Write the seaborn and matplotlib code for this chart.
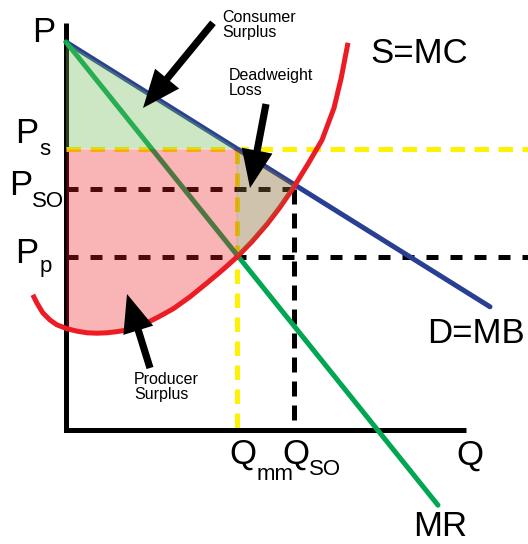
import numpy as np
import pandas as pd
import matplotlib
matplotlib.use("Agg")
import matplotlib.pyplot as plt
import seaborn as sns

# Demand (marginal benefit) and marginal revenue: straight lines
demand_q = [0.0, 10.6]
demand_p = [9.70, 3.08]
mr_q = [0.0, 9.3]
mr_p = [9.70, -1.88]

# Supply (marginal cost) curve, U-shaped
mc_q = [-0.83, -0.73, -0.58, -0.40, -0.23, 0.03, 0.28, 0.53, 0.78, 1.03,
        1.28, 1.53, 1.78, 1.98, 2.30, 2.68, 3.10, 3.53, 3.90, 4.28, 4.65,
        5.03, 5.35, 5.68, 6.05, 6.40, 6.70, 6.88, 7.05]
mc_p = [3.38, 3.18, 2.93, 2.75, 2.63, 2.53, 2.47, 2.43, 2.42, 2.43,
        2.46, 2.50, 2.58, 2.66, 2.82, 3.03, 3.33, 3.68, 3.99, 4.33, 4.71,
        5.15, 5.57, 6.05, 6.65, 7.25, 8.05, 8.80, 9.68]

# Key quantities and prices
q_mm, q_so = 4.27, 5.70
p_s, p_so, p_p = 7.03, 6.02, 4.33

RED = "#ED1C24"
BLUE = "#293F94"
GREEN = "#00A651"
YELLOW = "#FFF200"

sns.set_theme(style="white")
plt.rcParams["font.family"] = ["Liberation Sans", "DejaVu Sans"]
plt.rcParams["text.color"] = "black"

fig = plt.figure(figsize=(5.28, 5.44), dpi=100)
ax = fig.add_axes([0, 0, 1, 1])
ax.set_xlim(-1.65, 11.55)
ax.set_ylim(-2.85, 10.75)
ax.axis("off")

LW = 3.6

# Axes of the diagram
ax.plot([0, 0, 10.0], [10.18, 0, 0], color="black", lw=LW,
        solid_joinstyle="miter", solid_capstyle="butt", zorder=3)

# Reference dashed lines
x_right = 11.55
ax.plot([0, x_right], [p_s, p_s], color=YELLOW, lw=LW, dashes=(2.9, 1.9),
        dash_capstyle="butt", zorder=2)
ax.plot([q_mm, q_mm], [p_s, 0], color=YELLOW, lw=LW, dashes=(2.9, 1.9),
        dash_capstyle="butt", zorder=2)
ax.plot([0, q_so + 0.1], [p_so, p_so], color="black", lw=LW,
        dashes=(2.4, 2.4), dash_capstyle="butt", zorder=2)
ax.plot([q_so, q_so], [p_so, 0.1], color="black", lw=LW,
        dashes=(3.0, 1.8), dash_capstyle="butt", zorder=2)
ax.plot([0, x_right], [p_p, p_p], color="black", lw=LW,
        dashes=(2.4, 2.4), dash_capstyle="butt", zorder=2)

# Curves
curves = pd.DataFrame({"q": demand_q, "p": demand_p})
sns.lineplot(data=curves, x="q", y="p", color=BLUE, lw=LW, sort=False, ax=ax)
curves = pd.DataFrame({"q": mr_q, "p": mr_p})
sns.lineplot(data=curves, x="q", y="p", color=GREEN, lw=LW, sort=False, ax=ax)
curves = pd.DataFrame({"q": mc_q, "p": mc_p})
sns.lineplot(data=curves, x="q", y="p", color=RED, lw=LW, sort=False, ax=ax,
             solid_capstyle="butt", solid_joinstyle="round")
for ln in ax.lines:
    ln.set_zorder(2)

# Shaded areas (drawn translucently over the lines)
mcq = np.array(mc_q)
mcp = np.array(mc_p)

# Consumer surplus
d_at_0 = np.interp(0, demand_q, demand_p)
ax.fill([0, q_mm, 0], [d_at_0, p_s, p_s], color=(112/255, 189/255, 86/255),
        alpha=0.35, lw=0, zorder=4)

# Producer surplus
inside = (mcq > 0) & (mcq < q_mm)
ps_q = np.concatenate([[0], mcq[inside], [q_mm]])
ps_p = np.concatenate([[np.interp(0, mc_q, mc_p)], mcp[inside],
                       [np.interp(q_mm, mc_q, mc_p)]])
ax.fill_between(ps_q, ps_p, p_s, color=RED, alpha=0.33, lw=0, zorder=4)

# Deadweight loss
inside = (mcq > q_mm) & (mcq < q_so)
dw_mc_q = np.concatenate([[q_mm], mcq[inside], [q_so]])
dw_mc_p = np.concatenate([[np.interp(q_mm, mc_q, mc_p)], mcp[inside],
                          [np.interp(q_so, mc_q, mc_p)]])
dw_q = np.concatenate([[q_mm, q_so], dw_mc_q[::-1]])
dw_p = np.concatenate([[np.interp(q_mm, demand_q, demand_p),
                        np.interp(q_so, demand_q, demand_p)], dw_mc_p[::-1]])
ax.fill(dw_q, dw_p, color=(137/255, 107/255, 52/255), alpha=0.4, lw=0,
        zorder=4)

# Pointer arrows
arrow_kw = dict(width=0.18, head_width=0.78, head_length=0.95,
                length_includes_head=True, color="black", lw=0, zorder=6)
for (x0, y0), (x1, y1) in [((3.675, 10.18), (1.925, 8.05)),
                           ((5.0, 8.15), (4.6, 6.05)),
                           ((2.1, 1.55), (1.525, 3.4))]:
    ax.arrow(x0, y0, x1 - x0, y1 - y0, **arrow_kw)

# Annotations
small = 11.5
ax.text(3.9, 10.5, "Consumer\nSurplus", fontsize=small, va="top", ha="left",
        linespacing=1.0, color="black", zorder=7)
ax.text(4.075, 9.05, "Deadweight\nLoss", fontsize=small, va="top", ha="left",
        linespacing=1.0, color="black", zorder=7)
ax.text(1.7, 1.45, "Producer\nSurplus", fontsize=small, va="top", ha="left",
        linespacing=1.0, color="black", zorder=7)

big, sub = 25, 16
labels = [
    ("P", -0.55, 9.70, big),
    ("S=MC", 8.825, 9.175, big),
    ("D=MB", 10.25, 2.175, big),
    ("MR", 9.35, -2.66, big),
    ("Q", 10.1, -0.875, big),
    ("Q", 4.43, -0.85, big),
    ("mm", 5.22, -1.25, sub),
    ("Q", 5.75, -0.85, big),
    ("SO", 6.475, -1.125, sub),
    ("P", -0.975, 7.175, big),
    ("s", -0.525, 6.875, sub),
    ("P", -1.125, 5.875, big),
    ("SO", -0.45, 5.575, sub),
    ("P", -0.975, 4.175, big),
    ("p", -0.5, 3.95, sub),
]
for txt, x, y, size in labels:
    ax.text(x, y, txt, fontsize=size, ha="center", va="baseline",
            color="black", zorder=7)

fig.savefig("out.png", dpi=100)
